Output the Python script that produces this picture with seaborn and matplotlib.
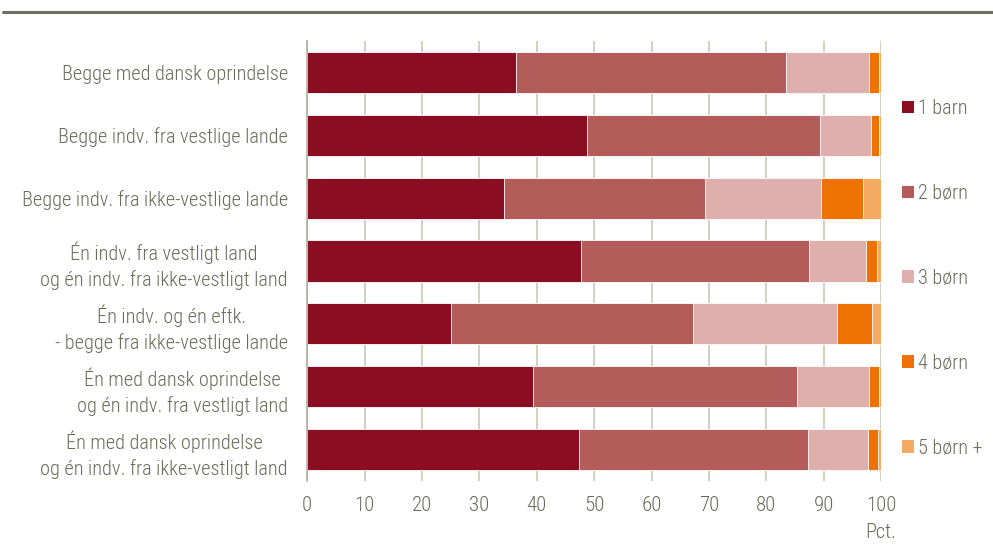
import matplotlib
matplotlib.use("Agg")
import matplotlib.pyplot as plt
import seaborn as sns
import numpy as np
from matplotlib.patches import Patch
from matplotlib.lines import Line2D

categories = [
    "Begge med dansk oprindelse",
    "Begge indv. fra vestlige lande",
    "Begge indv. fra ikke-vestlige lande",
    "Én indv. fra vestligt land\nog én indv. fra ikke-vestligt land",
    "Én indv. og én eftk.\n- begge fra ikke-vestlige lande",
    "Én med dansk oprindelse\nog én indv. fra vestligt land",
    "Én med dansk oprindelse\nog én indv. fra ikke-vestligt land",
]
series_names = ["1 barn", "2 børn", "3 børn", "4 børn", "5 børn +"]
barn1 = [36.4, 48.7, 34.2, 47.7, 25.0, 39.4, 47.3]
born2 = [47.0, 40.6, 35.1, 39.7, 42.2, 45.9, 39.9]
born3 = [14.5, 9.0, 20.3, 10.0, 25.1, 12.6, 10.6]
born4 = [1.8, 1.3, 7.2, 1.9, 6.2, 1.8, 1.7]
born5 = [0.3, 0.4, 3.2, 0.7, 1.5, 0.3, 0.5]
xticks = [0, 10, 20, 30, 40, 50, 60, 70, 80, 90, 100]

colors = ["#8a0d22", "#b35c5a", "#dfafab", "#ee7203", "#f5aa63"]
text_color = "#6a6a5a"
grid_color = "#c4c4b8"

sns.set_style("white")
plt.rcParams["font.family"] = ["Roboto Condensed", "Archivo Narrow", "DejaVu Sans"]
plt.rcParams["font.weight"] = "light"
FS = 14.6

fig = plt.figure(figsize=(9.93, 5.45), dpi=100)
ax = fig.add_axes([307.3 / 993, 1 - 480.7 / 545, (881 - 307.3) / 993, (480.7 - 41.3) / 545])

series = [barn1, born2, born3, born4, born5]
cum = np.cumsum(np.array(series), axis=0)
for k in range(len(series) - 1, -1, -1):
    sns.barplot(x=list(cum[k]), y=categories, color=colors[k], saturation=1,
                orient="h", width=0.66, edgecolor="white", linewidth=0.6, ax=ax)

ax.set_xlim(0, 100)
ax.set_ylim(6.5, -0.5)
ax.set_xticks(xticks)
ax.set_xticklabels([str(t) for t in xticks])
ax.set_xlabel("")
ax.set_ylabel("")
ax.grid(axis="x", color=grid_color, lw=1.1)
ax.grid(axis="y", visible=False)
ax.set_axisbelow(True)
for s in ["top", "right", "bottom"]:
    ax.spines[s].set_visible(False)
ax.spines["left"].set_color("#a8a89a")
ax.spines["left"].set_linewidth(1.1)
ax.tick_params(axis="x", length=0, pad=11, labelsize=15, labelcolor=text_color)
ax.tick_params(axis="y", length=0, pad=14, labelsize=FS, labelcolor=text_color)
for lbl in ax.get_yticklabels():
    lbl.set_multialignment("center")
    lbl.set_linespacing(1.38)

ax.text(100, -0.118, "Pct.", transform=ax.get_xaxis_transform(), ha="center",
        va="center", fontsize=FS, color=text_color)

handles = [Patch(facecolor=c, edgecolor="none") for c in colors]
fig.legend(handles, series_names, loc="center left",
           bbox_to_anchor=(902 / 993, 1 - 278.5 / 545), frameon=False,
           handlelength=0.6, handleheight=0.6, handletextpad=0.2,
           labelspacing=3.25, borderpad=0, borderaxespad=0, fontsize=FS,
           labelcolor=text_color)

fig.add_artist(Line2D([3 / 993, 1], [1 - 12 / 545, 1 - 12 / 545], color="#6e6e5e", lw=2.2))

fig.savefig("out.png", dpi=100)
